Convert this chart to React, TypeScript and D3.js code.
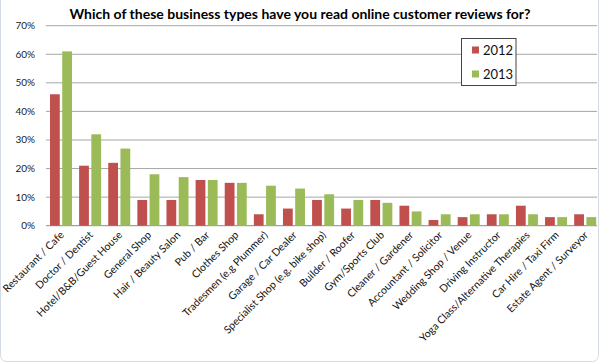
import { scaleBand, scaleLinear } from "d3";

const categories = [
  "Restaurant / Cafe",
  "Doctor / Dentist",
  "Hotel/B&B/Guest House",
  "General Shop",
  "Hair / Beauty Salon",
  "Pub / Bar",
  "Clothes Shop",
  "Tradesmen (e.g Plummer)",
  "Garage / Car Dealer",
  "Specialist Shop (e.g. bike shop)",
  "Builder / Roofer",
  "Gym/Sports Club",
  "Cleaner / Gardener",
  "Accountant / Solicitor",
  "Wedding Shop / Venue",
  "Driving Instructor",
  "Yoga Class/Alternative Therapies",
  "Car Hire / Taxi Firm",
  "Estate Agent / Surveyor",
];

const values2012 = [46, 21, 22, 9, 9, 16, 15, 4, 6, 9, 6, 9, 7, 2, 3, 4, 7, 3, 4];
const values2013 = [61, 32, 27, 18, 17, 16, 15, 14, 13, 11, 9, 8, 5, 4, 4, 4, 4, 3, 3];

const seriesNames = ["2012", "2013"];
const seriesColors = ["#C0504D", "#9BBB59"];
const yTickValues = [0, 10, 20, 30, 40, 50, 60, 70];

const title = "Which of these business types have you read online customer reviews for?";

const width = 600;
const height = 363;
const margin = { top: 25.7, right: 3, bottom: 137.3, left: 46 };
const font = "Lato, 'Open Sans', sans-serif";

export default function App() {
  const x0 = scaleBand<string>()
    .domain(categories)
    .range([margin.left, 599.3])
    .padding(0);

  // the pair of bars sits slightly left of the band centre, as in Excel
  const x1 = scaleBand<string>()
    .domain(seriesNames)
    .range([4, 26])
    .paddingInner(0.2);

  const y = scaleLinear()
    .domain([0, 70])
    .range([height - margin.bottom, margin.top]);

  const seriesValues = [values2012, values2013];

  return (
    <svg
      width={width}
      height={height}
      viewBox={`0 0 ${width} ${height}`}
      style={{ position: "absolute", left: 0, top: 0, background: "#fff" }}
      fontFamily={font}
    >
      <rect
        x={0.5}
        y={-10}
        width={598}
        height={371.5}
        rx={6}
        fill="#fff"
        stroke="#d5dbe3"
      />

      <text
        x={300}
        y={19}
        textAnchor="middle"
        fontWeight="bold"
        fontSize={14}
        fill="#000"
      >
        {title}
      </text>

      {yTickValues.map((t) => (
        <g key={`y-${t}`}>
          <line
            x1={margin.left}
            x2={width - margin.right}
            y1={y(t)}
            y2={y(t)}
            stroke={t === 0 ? "#8a8a8a" : "#a6a6a6"}
            strokeWidth={1}
          />
          <text
            x={35}
            y={y(t)}
            dy="0.35em"
            textAnchor="end"
            fontSize={10}
            fill="#222"
          >
            {t}%
          </text>
        </g>
      ))}

      {categories.map((c, i) => (
        <g key={c} transform={`translate(${x0(c)},0)`}>
          {seriesNames.map((s, j) => (
            <rect
              key={s}
              x={x1(s)}
              y={y(seriesValues[j][i])}
              width={x1.bandwidth()}
              height={y(0) - y(seriesValues[j][i])}
              fill={seriesColors[j]}
            />
          ))}
        </g>
      ))}

      {categories.map((c) => {
        const cx = (x0(c) ?? 0) + x0.bandwidth() / 2 + 4;
        const cy = y(0) + 10;
        return (
          <text
            key={`lbl-${c}`}
            transform={`translate(${cx},${cy}) rotate(-45)`}
            textAnchor="end"
            fontSize={10.5}
            fill="#111"
          >
            {c}
          </text>
        );
      })}

      <g transform="translate(461.5,38.5)">
        <rect width={54.5} height={47} fill="#fff" stroke="#444" />
        {seriesNames.map((s, j) => (
          <g key={s} transform={`translate(0,${11.5 + j * 24})`}>
            <rect x={10.5} y={-3.5} width={7} height={7} fill={seriesColors[j]} />
            <text x={21.5} y={0} dy="0.36em" fontSize={13} fill="#111">
              {s}
            </text>
          </g>
        ))}
      </g>
    </svg>
  );
}
